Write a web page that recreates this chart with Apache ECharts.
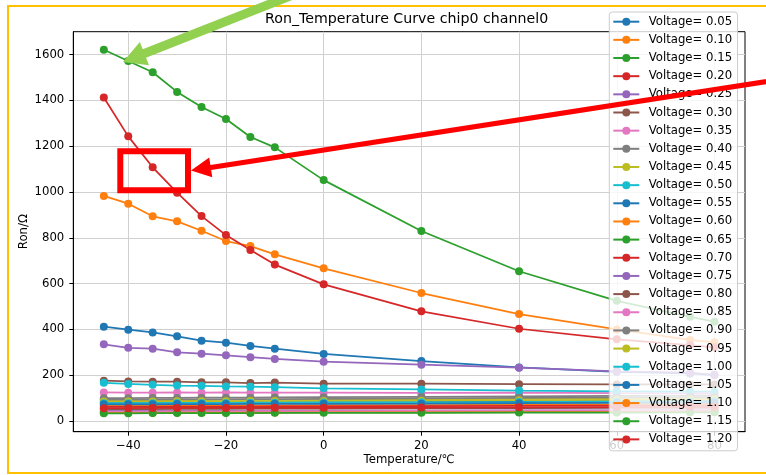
<!DOCTYPE html>
<html>
<head>
<meta charset="utf-8">
<script src="https://cdn.jsdelivr.net/npm/echarts@6/dist/echarts.min.js"></script>
<style>html,body{margin:0;padding:0;background:#fff;}#c{width:766px;height:475px;}</style>
</head>
<body>
<div id="c"></div>
<script>
const temperatures = [-45, -40, -35, -30, -25, -20, -15, -10, 0, 20, 40, 60, 75, 80];
const voltages = ['0.05','0.10','0.15','0.20','0.25','0.30','0.35','0.40','0.45','0.50','0.55','0.60','0.65','0.70','0.75','0.80','0.85','0.90','0.95','1.00','1.05','1.10','1.15','1.20'];
const xTicks = [-40, -20, 0, 20, 40, 60, 80];
const yTicks = [0, 200, 400, 600, 800, 1000, 1200, 1400, 1600];

const v005 = [412, 399, 387, 370, 351, 342, 328, 316, 293, 262, 234, 215, 208, 201];
const v010 = [983, 949, 894, 872, 831, 786, 764, 728, 667, 559, 467, 400, 354, 344];
const v015 = [1621, 1572, 1523, 1437, 1371, 1319, 1240, 1195, 1052, 830, 654, 525, 455, 434];
const v020 = [1413, 1243, 1108, 997, 895, 812, 747, 683, 597, 479, 403, 357, 332, 322];
const v025 = [335, 320, 316, 300, 294, 287, 279, 271, 259, 246, 233, 217, 211, 202];
const v030 = [176, 173, 172, 172, 169, 169, 166, 168, 163, 163, 161, 160, 160, 160];
const v035 = [125, 124, 124, 125, 124, 125, 124, 124, 124, 123, 124, 122, 121, 121];
const v040 = [100, 100, 101, 101, 102, 102, 102, 103, 104, 106, 108, 110, 111, 112];
const v045 = [90, 90, 91, 91, 91, 92, 92, 92, 93, 95, 97, 99, 100, 100];
const v050 = [167, 162, 158, 155, 154, 151, 150, 148, 143, 138, 133, 130, 128, 128];
const v055 = [80, 80, 80, 81, 81, 81, 82, 82, 83, 84, 86, 87, 88, 88];
const v060 = [66, 66, 67, 67, 67, 68, 68, 68, 69, 70, 72, 73, 74, 75];
const v065 = [37, 37, 37, 38, 38, 38, 38, 38, 39, 39, 40, 40, 40, 41];
const v070 = [62, 62, 62, 63, 63, 63, 63, 64, 64, 65, 66, 67, 68, 68];
const v075 = [44, 44, 44, 45, 45, 45, 45, 45, 46, 46, 47, 47, 48, 48];
const v080 = [52, 52, 52, 53, 53, 53, 54, 54, 54, 55, 56, 57, 57, 58];
const v085 = [41, 41, 42, 42, 42, 42, 43, 43, 43, 44, 45, 46, 47, 47];
const v090 = [94, 94, 94, 95, 95, 95, 96, 96, 97, 99, 101, 103, 104, 105];
const v095 = [85, 85, 85, 86, 86, 86, 87, 87, 88, 89, 91, 93, 94, 95];
const v100 = [78, 78, 78, 79, 79, 79, 80, 80, 81, 82, 83, 85, 85, 86];
const v105 = [73, 73, 73, 74, 74, 74, 75, 75, 75, 76, 78, 79, 80, 80];
const v110 = [36, 36, 36, 37, 37, 37, 37, 37, 38, 38, 39, 39, 40, 40];
const v115 = [34, 34, 35, 35, 35, 35, 35, 36, 36, 36, 37, 37, 38, 38];
const v120 = [56, 56, 57, 57, 57, 57, 58, 58, 58, 59, 60, 61, 62, 62];

const ronValues = [v005, v010, v015, v020, v025, v030, v035, v040, v045, v050, v055, v060,
                   v065, v070, v075, v080, v085, v090, v095, v100, v105, v110, v115, v120];

const palette = ['#1f77b4','#ff7f0e','#2ca02c','#d62728','#9467bd','#8c564b','#e377c2','#7f7f7f','#bcbd22','#17becf'];
const FONT = 'DejaVu Sans';

const series = voltages.map((v, i) => ({
  name: 'Voltage= ' + v,
  type: 'line',
  data: temperatures.map((t, j) => [t, ronValues[i][j]]),
  symbol: 'circle',
  symbolSize: 8,
  showSymbol: true,
  color: palette[i % 10],
  lineStyle: { width: 1.75, color: palette[i % 10] },
  itemStyle: { color: palette[i % 10] },
  emphasis: { disabled: true },
  animation: false,
  z: 2
}));

// annotation arrow polygons
function arrow(tip, dir, headLen, headHalf, shaftHalf, len) {
  const p = [-dir[1], dir[0]];
  const B = [tip[0] + headLen * dir[0], tip[1] + headLen * dir[1]];
  const E = [tip[0] + len * dir[0], tip[1] + len * dir[1]];
  return [
    tip,
    [B[0] + headHalf * p[0], B[1] + headHalf * p[1]],
    [B[0] + shaftHalf * p[0], B[1] + shaftHalf * p[1]],
    [E[0] + shaftHalf * p[0], E[1] + shaftHalf * p[1]],
    [E[0] - shaftHalf * p[0], E[1] - shaftHalf * p[1]],
    [B[0] - shaftHalf * p[0], B[1] - shaftHalf * p[1]],
    [B[0] - headHalf * p[0], B[1] - headHalf * p[1]]
  ];
}
function unit(a, b) { const dx = b[0]-a[0], dy = b[1]-a[1]; const l = Math.hypot(dx, dy); return [dx/l, dy/l]; }

const greenPts = arrow([123, 62], unit([123, 62], [280, 0]), 23, 12.5, 4.5, 220);
const redPts = arrow([191, 170.5], unit([191, 170.5], [766, 81.7]), 20, 10, 2.6, 620);

const chart = echarts.init(document.getElementById('c'), null, { renderer: 'canvas' });
chart.setOption({
  animation: false,
  backgroundColor: '#ffffff',
  title: {
    text: 'Ron_Temperature Curve chip0 channel0',
    left: 265, top: 12, padding: 0,
    textStyle: { fontFamily: FONT, fontSize: 14.2, fontWeight: 'normal', color: '#000', lineHeight: 15 }
  },
  grid: { left: 73.3, right: 21, top: 31.7, bottom: 43.3, show: true, borderColor: '#000', borderWidth: 1, backgroundColor: 'transparent' },
  xAxis: {
    type: 'value', min: -51.25, max: 86.25,
    name: 'Temperature/℃', nameLocation: 'middle', nameGap: 22, nameMoveOverlap: false,
    nameTextStyle: { fontFamily: FONT, fontSize: 11.7, color: '#000' },
    axisLine: { show: true, onZero: false, lineStyle: { color: '#000', width: 1 } },
    axisTick: { show: true, length: 4, inside: false, customValues: xTicks, lineStyle: { color: '#000' } },
    axisLabel: { customValues: xTicks, margin: 8, fontFamily: FONT, fontSize: 11.7, color: '#000',
      formatter: v => (v < 0 ? '\u2212' + Math.abs(v) : String(v)) },
    splitLine: { show: true, lineStyle: { color: '#d0d0d0', width: 1 } }
  },
  yAxis: {
    type: 'value', min: -46.5, max: 1700,
    name: 'Ron/Ω', nameLocation: 'middle', nameGap: 43, nameMoveOverlap: false,
    nameTextStyle: { fontFamily: FONT, fontSize: 11.7, color: '#000' },
    axisLine: { show: true, onZero: false, lineStyle: { color: '#000', width: 1 } },
    axisTick: { show: true, length: 4, customValues: yTicks, lineStyle: { color: '#000' } },
    axisLabel: { customValues: yTicks, margin: 9, fontFamily: FONT, fontSize: 11.7, color: '#000',
      formatter: v => String(v) },
    splitLine: { show: true, lineStyle: { color: '#d0d0d0', width: 1 } }
  },
  legend: {
    orient: 'vertical', left: 609.3, top: 12,
    padding: [2.7, 5.4, 4.4, 3],
    itemWidth: 26, itemHeight: 10, itemGap: 4.16,
    selectedMode: false,
    backgroundColor: 'rgba(255,255,255,0.8)',
    borderColor: '#cccccc', borderWidth: 1, borderRadius: 3,
    textStyle: { fontFamily: FONT, fontSize: 11.7, color: '#000', lineHeight: 14, padding: [0, 0, 0, 4.4] },
    data: voltages.map(v => 'Voltage= ' + v),
    z: 4
  },
  series: series,
  graphic: [
    { type: 'rect', z: 100, silent: true, shape: { x: 8, y: 6, width: 800, height: 467 },
      style: { fill: 'none', stroke: '#FFC000', lineWidth: 2 } },
    { type: 'polygon', z: 100, silent: true, shape: { points: greenPts }, style: { fill: '#92D050' } },
    { type: 'polygon', z: 100, silent: true, shape: { points: redPts }, style: { fill: '#FF0000' } },
    { type: 'rect', z: 100, silent: true, shape: { x: 120.3, y: 151.2, width: 67.7, height: 39 },
      style: { fill: 'none', stroke: '#FF0000', lineWidth: 6 } }
  ]
});
</script>
</body>
</html>
